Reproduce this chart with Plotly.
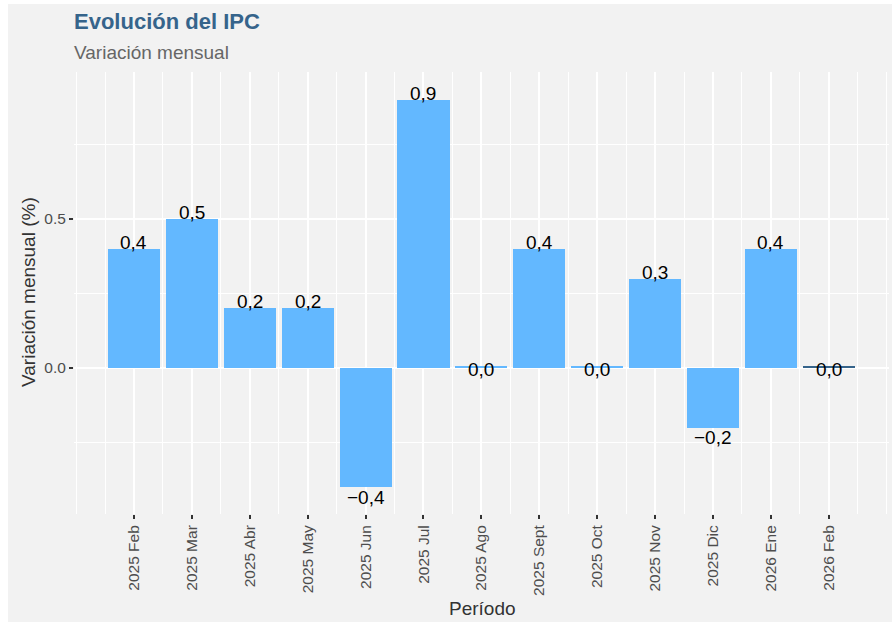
import plotly.graph_objects as go

# ---- data ----
periodos = ["2025 Feb", "2025 Mar", "2025 Abr", "2025 May", "2025 Jun", "2025 Jul",
            "2025 Ago", "2025 Sept", "2025 Oct", "2025 Nov", "2025 Dic", "2026 Ene", "2026 Feb"]
variacion = [0.4, 0.5, 0.2, 0.2, -0.4, 0.9, 0.0, 0.4, 0.0, 0.3, -0.2, 0.4, 0.0]
y_ticks = [0.0, 0.5]
y_tick_labels = ["0.0", "0.5"]

# ---- style ----
BG = "#F2F2F2"
BAR = "#63B8FF"
HIGHLIGHT = "#36648B"
FONT = "Liberation Sans, Arial, sans-serif"

xpos = list(range(len(periodos)))
colors = [BAR] * (len(periodos) - 1) + [HIGHLIGHT]
# zero values drawn as a hairline, as in the reference
heights = [v if v != 0 else 0.0035 for v in variacion]


def fmt(v):
    s = f"{v:.1f}".replace(".", ",")
    return s.replace("-", "\u2212")


fig = go.Figure()
fig.add_trace(go.Bar(
    x=xpos, y=heights, width=0.9,
    marker=dict(color=colors, line=dict(width=0)),
    hoverinfo="skip", showlegend=False,
))

annotations = []
for i, v in enumerate(variacion):
    if v > 0:
        ys = 6.5
    elif v < 0:
        ys = -10
    else:
        ys = -1.5
    annotations.append(dict(
        x=i, y=v, xref="x", yref="y", text=fmt(v), showarrow=False,
        xanchor="center", yanchor="middle", yshift=ys,
        font=dict(family=FONT, size=19, color="#000000"),
    ))

W, H = 884, 618
ML, MR, MT, MB = 66, 3, 68, 108
PW, PH = W - ML - MR, H - MT - MB


def px_to_paper(fx, fy):
    return (fx - ML) / PW, (MT + PH - fy) / PH


tx, ty = px_to_paper(64, 18)
annotations.append(dict(x=tx, y=ty, xref="paper", yref="paper", text="<b>Evolución del IPC</b>",
                        showarrow=False, xanchor="left", yanchor="middle",
                        font=dict(family=FONT, size=22, color=HIGHLIGHT)))
sx, sy = px_to_paper(64, 48.5)
annotations.append(dict(x=sx, y=sy, xref="paper", yref="paper", text="Variación mensual",
                        showarrow=False, xanchor="left", yanchor="middle",
                        font=dict(family=FONT, size=19, color="#666666")))
ax_, ay_ = px_to_paper(20, 288)
annotations.append(dict(x=ax_, y=ay_, xref="paper", yref="paper", text="Variación mensual (%)",
                        showarrow=False, xanchor="center", yanchor="middle", textangle=-90,
                        font=dict(family=FONT, size=19, color="#333333")))
bx, by = px_to_paper(474, 604.5)
annotations.append(dict(x=bx, y=by, xref="paper", yref="paper", text="Período",
                        showarrow=False, xanchor="center", yanchor="middle",
                        font=dict(family=FONT, size=19, color="#333333")))

minor_x = [-1.0] + [i + 0.5 for i in range(-1, len(periodos))] + [float(len(periodos))]

fig.update_layout(
    width=W, height=H,
    margin=dict(l=ML, r=MR, t=MT, b=MB, pad=0),
    paper_bgcolor=BG, plot_bgcolor=BG,
    font=dict(family=FONT, color="#4D4D4D"),
    bargap=0,
    annotations=annotations,
    xaxis=dict(
        range=[-1.036, 13.04], tickmode="array", tickvals=xpos, ticktext=periodos,
        tickangle=-90, ticks="outside", ticklen=4, tickwidth=1.5, tickcolor="#333333",
        tickfont=dict(family=FONT, size=15.5, color="#4D4D4D"),
        showgrid=True, gridcolor="#FFFFFF", gridwidth=2, zeroline=False, showline=False,
        minor=dict(tickmode="array", tickvals=minor_x, showgrid=True,
                   gridcolor="#FFFFFF", gridwidth=1, ticks=""),
        fixedrange=True,
    ),
    yaxis=dict(
        range=[-0.49, 0.993], tickmode="array", tickvals=y_ticks, ticktext=y_tick_labels,
        ticks="outside", ticklen=4, tickwidth=1.5, tickcolor="#333333",
        tickfont=dict(family=FONT, size=15.5, color="#4D4D4D"),
        showgrid=True, gridcolor="#FFFFFF", gridwidth=2, zeroline=False, showline=False,
        minor=dict(tickmode="array", tickvals=[-0.25, 0.25, 0.75], showgrid=True,
                   gridcolor="#FFFFFF", gridwidth=1, ticks=""),
        fixedrange=True,
    ),
)

fig.write_html("out.html", config={"displayModeBar": False},
               post_script="document.body.style.margin='4px 0 0 8px';")
